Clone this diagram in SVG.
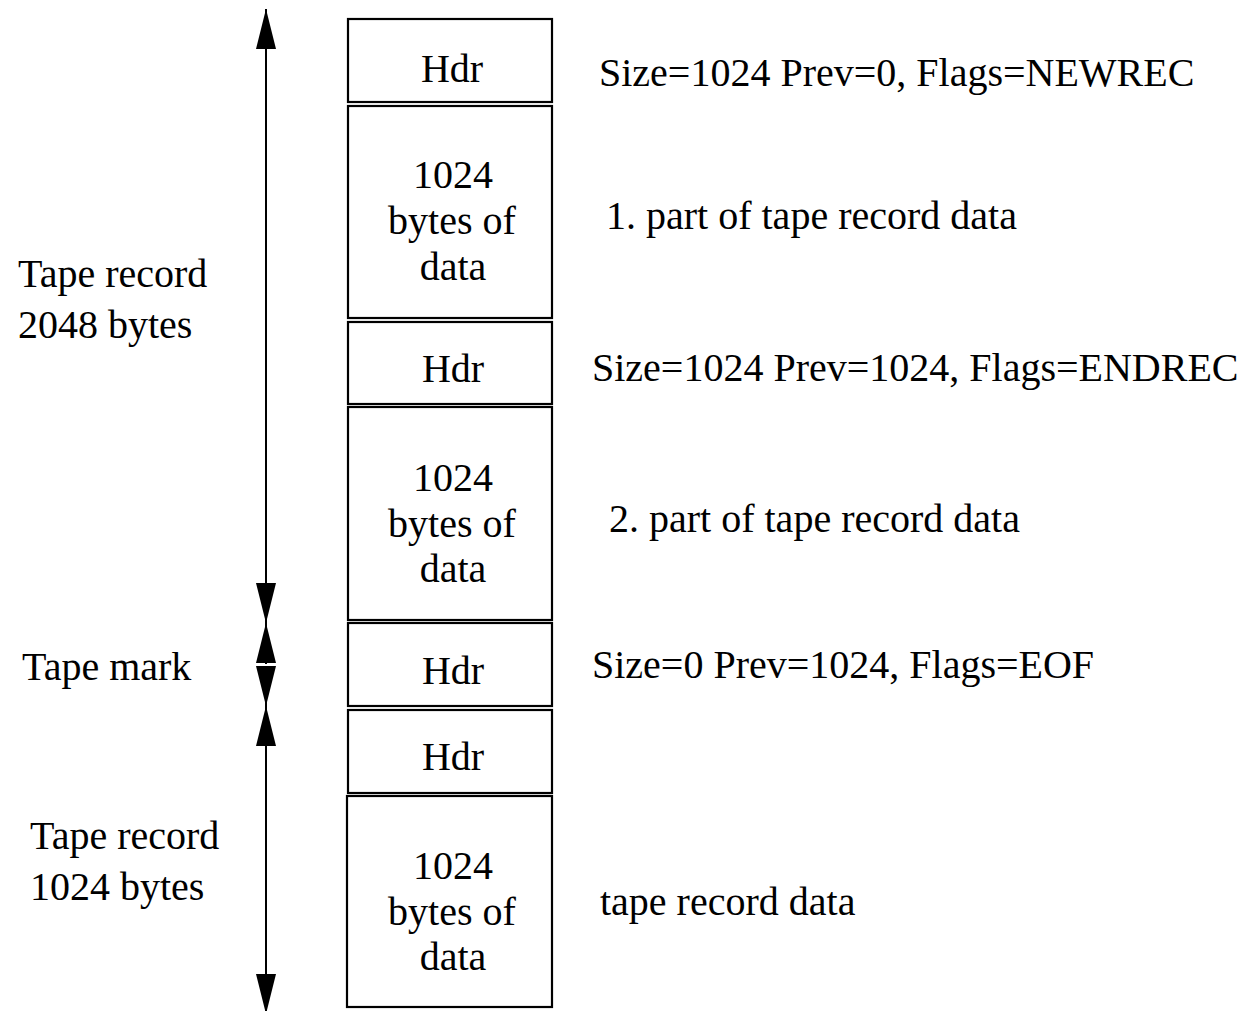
<svg xmlns="http://www.w3.org/2000/svg" width="1245" height="1011" viewBox="0 0 1245 1011">
<style>
.box{fill:#fff;stroke:#000;stroke-width:2.2}
text{font-family:"Liberation Serif","Times New Roman",serif;font-size:40px;fill:#000}
.c{text-anchor:middle}
.conn{stroke:#000;stroke-width:2;fill:none}
</style>
<defs>
<marker id="ah" markerUnits="userSpaceOnUse" markerWidth="40" markerHeight="20" viewBox="0 0 40 20" refX="40" refY="10" orient="auto-start-reverse">
<path d="M0,0 L40,10 L0,20 Z" fill="#000"/>
</marker>
</defs>
<rect width="1245" height="1011" fill="#fff"/>
<g id="connectors">
<line class="conn" x1="266" y1="9" x2="266" y2="623" marker-start="url(#ah)" marker-end="url(#ah)"/>
<line class="conn" x1="266" y1="623" x2="266" y2="664" marker-start="url(#ah)"/>
<line class="conn" x1="266" y1="666" x2="266" y2="706" marker-end="url(#ah)"/>
<line class="conn" x1="266" y1="706" x2="266" y2="1014" marker-start="url(#ah)" marker-end="url(#ah)"/>
</g>
<g id="hdr1"><rect class="box" x="348" y="19" width="204" height="83"/><text class="c" x="452" y="82">Hdr</text></g>
<g id="data1"><rect class="box" x="348" y="106" width="204" height="212"/>
<text class="c" x="453" y="188">1024</text><text class="c" x="452" y="234">bytes of</text><text class="c" x="453" y="280">data</text></g>
<g id="hdr2"><rect class="box" x="348" y="322" width="204" height="82"/><text class="c" x="453" y="382">Hdr</text></g>
<g id="data2"><rect class="box" x="348" y="407" width="204" height="213"/>
<text class="c" x="453" y="491">1024</text><text class="c" x="452" y="537">bytes of</text><text class="c" x="453" y="582">data</text></g>
<g id="hdr3"><rect class="box" x="348" y="623" width="204" height="83"/><text class="c" x="453" y="684">Hdr</text></g>
<g id="hdr4"><rect class="box" x="348" y="710" width="204" height="83"/><text class="c" x="453" y="770">Hdr</text></g>
<g id="data3"><rect class="box" x="347" y="796" width="205" height="211"/>
<text class="c" x="453" y="879">1024</text><text class="c" x="452" y="925">bytes of</text><text class="c" x="453" y="970">data</text></g>
<g id="labels">
<text x="599" y="86">Size=1024 Prev=0, Flags=NEWREC</text>
<text x="606" y="229">1. part of tape record data</text>
<text x="592" y="381">Size=1024 Prev=1024, Flags=ENDREC</text>
<text x="609" y="532">2. part of tape record data</text>
<text x="592" y="678">Size=0 Prev=1024, Flags=EOF</text>
<text x="600" y="915">tape record data</text>
<text x="18" y="287">Tape record</text>
<text x="18" y="338">2048 bytes</text>
<text x="22" y="680">Tape mark</text>
<text x="30" y="849">Tape record</text>
<text x="30" y="900">1024 bytes</text>
</g>
</svg>
